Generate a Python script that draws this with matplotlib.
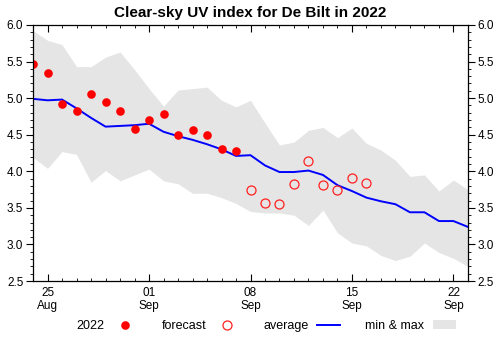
import datetime as dt
import matplotlib
matplotlib.use("Agg")
import matplotlib.pyplot as plt
import matplotlib.dates as mdates
from matplotlib.ticker import MultipleLocator, FormatStrFormatter
from matplotlib.patches import Patch
from matplotlib.lines import Line2D

plt.rcParams['font.family'] = ['Liberation Sans', 'DejaVu Sans']

start = dt.date(2022, 8, 24)
days = [start + dt.timedelta(days=i) for i in range(31)]

# climatological average, minimum and maximum clear-sky UV index
avg_uv = [4.99, 4.97, 4.98, 4.86, 4.73, 4.61, 4.62, 4.63, 4.65, 4.54, 4.48,
          4.43, 4.37, 4.30, 4.21, 4.22, 4.08, 3.99, 3.99, 4.01, 3.95, 3.81,
          3.73, 3.64, 3.59, 3.55, 3.44, 3.44, 3.32, 3.32, 3.24]
max_uv = [5.92, 5.79, 5.73, 5.43, 5.43, 5.56, 5.63, 5.39, 5.13, 4.89, 5.11,
          5.13, 5.15, 4.97, 4.88, 4.97, 4.66, 4.36, 4.40, 4.56, 4.60, 4.46,
          4.59, 4.38, 4.29, 4.15, 3.93, 3.95, 3.73, 3.88, 3.75]
min_uv = [4.19, 4.04, 4.27, 4.23, 3.85, 4.01, 3.87, 3.95, 4.03, 3.87, 3.83,
          3.70, 3.70, 3.64, 3.56, 3.45, 3.43, 3.43, 3.40, 3.26, 3.47, 3.16,
          3.02, 2.98, 2.85, 2.78, 2.84, 3.02, 2.89, 2.81, 2.70]

# observed values for 2022 (Aug 24 - Sep 7) and forecast (Sep 8 - Sep 16)
obs_uv = [5.47, 5.35, 4.92, 4.83, 5.06, 4.95, 4.83, 4.58, 4.70, 4.78, 4.49,
          4.56, 4.50, 4.30, 4.28]
fc_uv = [3.75, 3.57, 3.55, 3.82, 4.14, 3.81, 3.74, 3.91, 3.84]
obs_days = days[:len(obs_uv)]
fc_days = days[len(obs_uv):len(obs_uv) + len(fc_uv)]

fig = plt.figure(figsize=(5.01, 3.37), dpi=100)
ax = fig.add_axes([0.066, 0.166, 0.868, 0.760])

ax.fill_between(days, min_uv, max_uv, color='#e5e5e5', lw=0)
ax.plot(days, avg_uv, color='#0000ff', lw=1.4)
ax.plot(obs_days, obs_uv, 'o', color='#ff0000', ms=6.2, mec='none')
ax.plot(fc_days, fc_uv, 'o', mfc='none', mec='#ff2020', mew=0.9, ms=6.5)

ax.set_xlim(mdates.date2num(days[0]), mdates.date2num(days[-1]))
ax.set_ylim(2.5, 6.0)
ax.xaxis.set_major_locator(mdates.DayLocator(bymonthday=[1, 8, 15, 22, 25]))
ax.xaxis.set_major_formatter(mdates.DateFormatter('%d\n%b'))
ax.xaxis.set_minor_locator(mdates.DayLocator())
ax.yaxis.set_major_locator(MultipleLocator(0.5))
ax.yaxis.set_minor_locator(MultipleLocator(0.1))
ax.yaxis.set_major_formatter(FormatStrFormatter('%.1f'))

ax.tick_params(axis='x', which='both', direction='in', top=True, bottom=True,
               labelsize=8.5, pad=4)
ax.tick_params(axis='y', which='both', direction='out', left=True, right=True,
               labelleft=True, labelright=True, labelsize=8.5, pad=2)
ax.tick_params(which='major', length=5, width=0.8)
ax.tick_params(which='minor', length=2.5, width=0.6)
for s in ax.spines.values():
    s.set_linewidth(0.9)

ax.set_title('Clear-sky UV index for De Bilt in 2022', fontsize=11,
             fontweight='bold', pad=6)

handles = [
    Line2D([], [], ls='none', marker='o', color='#ff0000', mec='none', ms=6.2),
    Line2D([], [], ls='none', marker='o', mfc='none', mec='#ff2020', mew=0.9, ms=6.5),
    Line2D([], [], color='#0000ff', lw=1.4),
    Patch(facecolor='#e5e5e5', edgecolor='none'),
]
labels = ['2022', 'forecast', 'average', 'min & max']
fig.legend(handles, labels, loc='center', bbox_to_anchor=(0.532, 0.033),
           ncol=4, frameon=False, markerfirst=False, fontsize=9,
           handlelength=1.85, columnspacing=2.0, handletextpad=0.7)

fig.savefig('out.png', dpi=100)
